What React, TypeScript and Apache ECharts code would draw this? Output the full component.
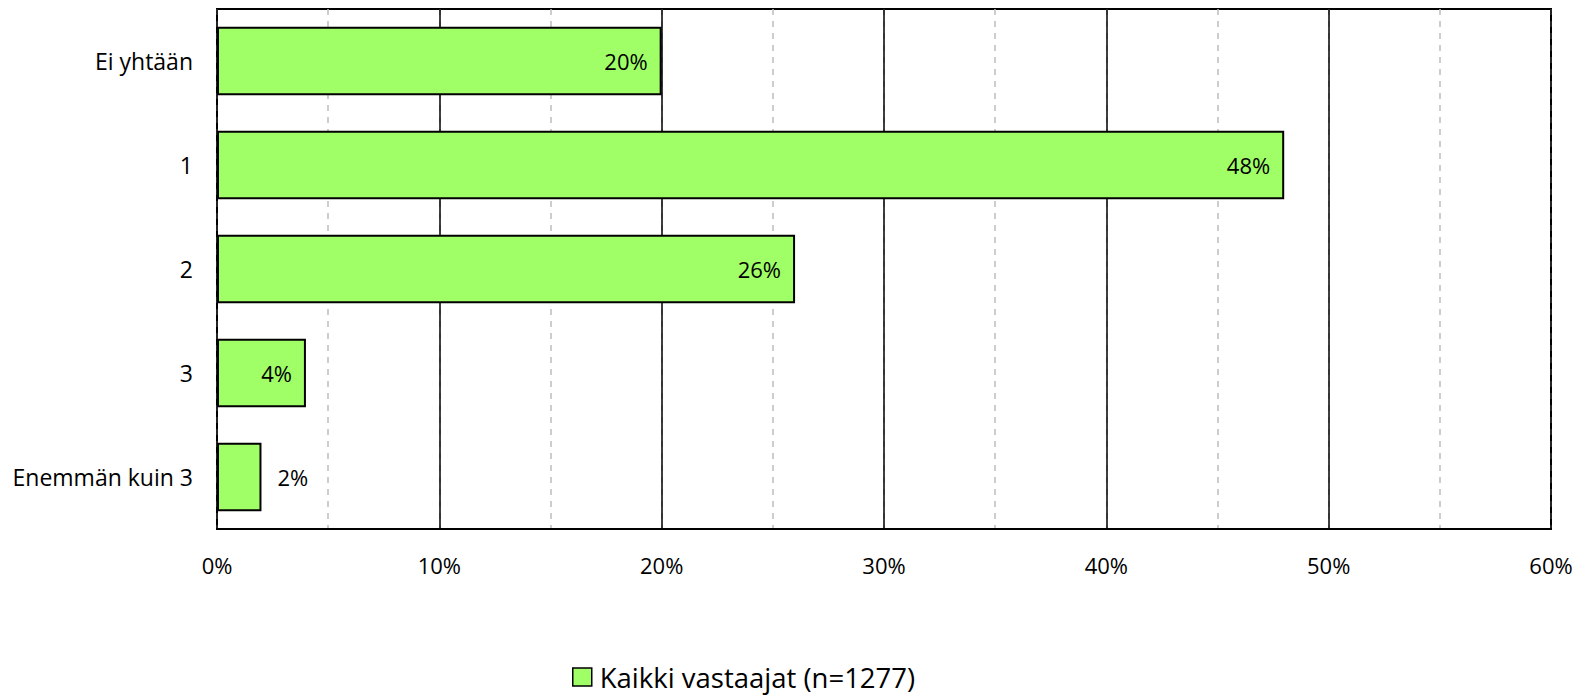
import React, { useEffect, useRef } from "react";
import * as echarts from "echarts";

const categories = ["Ei yhtään", "1", "2", "3", "Enemmän kuin 3"];
const values = [20, 48, 26, 4, 2];
const seriesName = "Kaikki vastaajat (n=1277)";
const xMin = 0;
const xMax = 60;

const FONT = "'Open Sans', 'Noto Sans', sans-serif";

export default function App() {
  const ref = useRef<HTMLDivElement>(null);
  useEffect(() => {
    document.body.style.margin = "0";
    const chart = echarts.init(ref.current!, null, { renderer: "svg" });
    chart.setOption({
      animation: false,
      backgroundColor: "#ffffff",
      textStyle: { fontFamily: FONT },
      grid: {
        left: 217,
        right: 37,
        top: 9,
        bottom: 166,
        show: true,
        borderColor: "#000",
        borderWidth: 2,
        containLabel: false,
      },
      legend: {
        left: 572,
        top: 663,
        padding: 0,
        icon: "rect",
        itemWidth: 19,
        itemHeight: 18,
        itemGap: 10,
        textStyle: {
          fontSize: 27.5,
          lineHeight: 24,
          color: "#000",
          fontFamily: FONT,
          padding: [0, 0, 0, 3],
        },
        data: [{ name: seriesName, itemStyle: { borderColor: "#000", borderWidth: 1.5 } }],
      },
      xAxis: [
        {
          type: "value",
          min: xMin,
          max: xMax,
          interval: 10,
          axisLine: { show: true, lineStyle: { color: "#000", width: 2 } },
          axisTick: { show: false },
          axisLabel: {
            formatter: (v: number) => v + "%",
            fontSize: 22,
            color: "#000",
            margin: 25,
            fontFamily: FONT,
          },
          splitLine: { show: true, lineStyle: { color: "#000", width: 1.5, type: "solid" } },
          z: 3,
        },
        {
          type: "value",
          min: xMin,
          max: xMax,
          interval: 5,
          axisLine: { show: false },
          axisTick: { show: false },
          axisLabel: { show: false },
          splitLine: { show: true, lineStyle: { color: "#bdbdbd", width: 1.5, type: [6, 6] } },
          z: 1,
        },
      ],
      yAxis: {
        type: "category",
        data: categories,
        inverse: true,
        axisLine: { show: true, lineStyle: { color: "#000", width: 2 } },
        axisTick: { show: false },
        axisLabel: { fontSize: 23, color: "#000", margin: 24, fontFamily: FONT },
      },
      series: [
        {
          name: seriesName,
          type: "bar",
          xAxisIndex: 0,
          barWidth: "66%",
          itemStyle: { color: "#A0FF66", borderColor: "#000", borderWidth: 2 },
          data: values.map((v) => ({
            value: v,
            label:
              v < 3
                ? { position: "right", distance: 16 }
                : { position: "insideRight", distance: 14 },
          })),
          label: {
            show: true,
            formatter: (p: any) => p.value + "%",
            fontSize: 22,
            color: "#000",
            fontFamily: FONT,
          },
          z: 5,
        },
      ],
    });
    return () => chart.dispose();
  }, []);
  return <div ref={ref} style={{ width: 1588, height: 695 }} />;
}
